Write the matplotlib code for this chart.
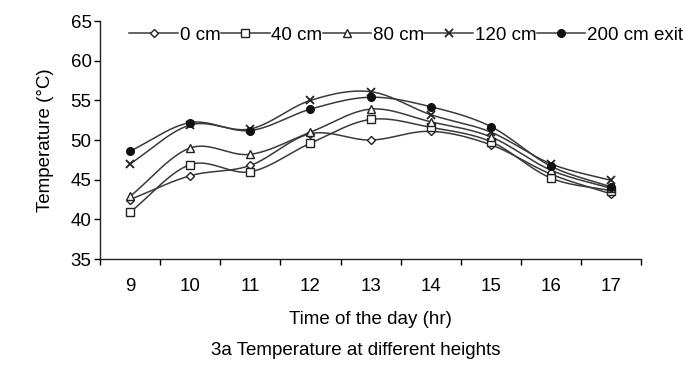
import numpy as np
import matplotlib.pyplot as plt
from matplotlib.lines import Line2D

plt.rcParams['font.family'] = ['Liberation Sans', 'DejaVu Sans']

# ── Data ───────────────────────────────────────────────────────────────────────
hours = [9, 10, 11, 12, 13, 14, 15, 16, 17]
t_0cm   = [42.5, 45.5, 46.8, 50.8, 50.0, 51.1, 49.4, 45.7, 43.2]
t_40cm  = [40.9, 46.9, 46.0, 49.6, 52.6, 51.6, 49.8, 45.2, 43.6]
t_80cm  = [42.9, 49.0, 48.2, 51.0, 53.9, 52.3, 50.4, 46.2, 43.9]
t_120cm = [47.0, 51.9, 51.4, 55.0, 56.1, 53.2, 51.0, 47.0, 44.9]
t_200cm = [48.6, 52.2, 51.2, 53.9, 55.4, 54.2, 51.7, 46.7, 44.1]
labels  = ['0 cm', '40 cm', '80 cm', '120 cm', '200 cm exit']

series = [t_0cm, t_40cm, t_80cm, t_120cm, t_200cm]
markers = [
    dict(marker='D', ms=4.5, mfc='white', mec='#222222', mew=1.0),
    dict(marker='s', ms=5.5, mfc='white', mec='#222222', mew=1.0),
    dict(marker='^', ms=6.0, mfc='white', mec='#222222', mew=1.0),
    dict(marker='x', ms=6.0, mfc='none', mec='#222222', mew=1.3),
    dict(marker='o', ms=5.5, mfc='#111111', mec='#111111', mew=1.0),
]
LINE = '#3a3a3a'
FS = 13.5


# ── Smoothed line (like Excel's "smoothed line") ──────────────────────────────
def smooth(x, y, n=24):
    x = np.asarray(x, float)
    y = np.asarray(y, float)
    px = np.concatenate([[2 * x[0] - x[1]], x, [2 * x[-1] - x[-2]]])
    py = np.concatenate([[2 * y[0] - y[1]], y, [2 * y[-1] - y[-2]]])
    xs, ys = [], []
    t = np.linspace(0, 1, n, endpoint=False)
    for i in range(1, len(px) - 2):
        for p, out in ((px, xs), (py, ys)):
            p0, p1, p2, p3 = p[i - 1], p[i], p[i + 1], p[i + 2]
            out.extend(0.5 * ((2 * p1) + (-p0 + p2) * t
                              + (2 * p0 - 5 * p1 + 4 * p2 - p3) * t ** 2
                              + (-p0 + 3 * p1 - 3 * p2 + p3) * t ** 3))
    xs.append(x[-1])
    ys.append(y[-1])
    return np.array(xs), np.array(ys)


# ── Figure ─────────────────────────────────────────────────────────────────────
fig = plt.figure(figsize=(6.85, 3.70), dpi=100)
ax = fig.add_axes([0.146, 0.30, 0.79, 0.643])

handles = []
for vals, mk in zip(series, markers):
    sx, sy = smooth(hours, vals)
    ax.plot(sx, sy, color=LINE, lw=1.1, zorder=2)
    ax.plot(hours, vals, ls='none', zorder=3, **mk)
    handles.append(Line2D([], [], color=LINE, lw=1.1, **mk))

ax.set_xlim(8.5, 17.5)
ax.set_ylim(35, 65)
ax.set_yticks(range(35, 66, 5))
ax.set_xticks(np.arange(8.5, 17.6, 1.0))
ax.set_xticklabels([])
ax.set_xticks(hours, minor=True)
ax.set_xticklabels([str(h) for h in hours], minor=True)
ax.tick_params(axis='x', which='major', direction='out', length=4, width=1)
ax.tick_params(axis='x', which='minor', length=0, pad=14, labelsize=FS)
ax.tick_params(axis='y', direction='out', length=4, width=1, labelsize=FS, pad=2)

for s in ('top', 'right'):
    ax.spines[s].set_visible(False)
for s in ('left', 'bottom'):
    ax.spines[s].set_color('#222222')
    ax.spines[s].set_linewidth(1.0)

ax.set_ylabel('Temperature (°C)', fontsize=FS, labelpad=12)
ax.set_xlabel('Time of the day (hr)', fontsize=FS, labelpad=11)

fig.legend(handles, labels, loc='upper left', bbox_to_anchor=(0.178, 0.948),
           ncol=5, frameon=False, fontsize=FS, handlelength=2.6,
           handletextpad=0.1, columnspacing=0.0, borderaxespad=0)

fig.text(0.52, 0.053, '3a Temperature at different heights', ha='center',
         va='center', fontsize=FS)

fig.savefig('out.png', dpi=100)
